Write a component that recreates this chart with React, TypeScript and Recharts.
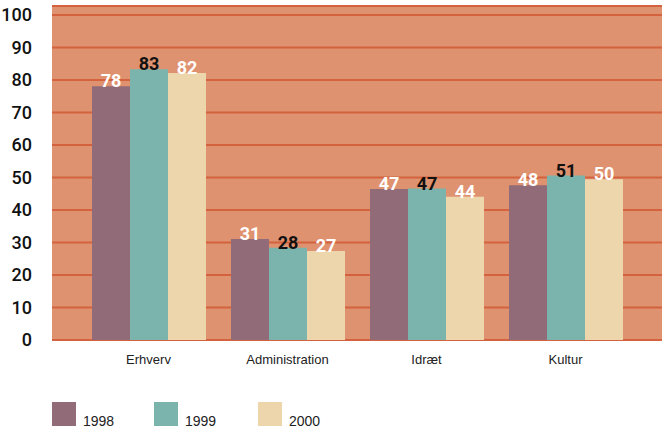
import { BarChart, Bar, XAxis, YAxis, CartesianGrid, LabelList } from "recharts";

const categories = ["Erhverv", "Administration", "Idræt", "Kultur"];
const years = ["1998", "1999", "2000"];
const v1998 = [78.1, 31.1, 46.5, 47.6];
const v1999 = [83.3, 28.4, 46.6, 50.6];
const v2000 = [82.2, 27.4, 44.1, 49.5];
const yTicks = [0, 10, 20, 30, 40, 50, 60, 70, 80, 90, 100];

const colors = ["#926B78", "#7AB4AC", "#EDD6AC"];
const labelColors = ["#FFFFFF", "#111111", "#FFFFFF"];

const data = categories.map((c, i) => ({
  name: c,
  y1998: v1998[i],
  y1999: v1999[i],
  y2000: v2000[i],
}));

function valueLabel(fill: string) {
  return (props: any) => {
    const { x, y, width, value } = props;
    return (
      <text
        x={x + width / 2}
        y={y + 1}
        textAnchor="middle"
        fill={fill}
        fontFamily="Roboto, sans-serif"
        fontWeight="bold"
        fontSize={18}
      >
        {Math.round(value)}
      </text>
    );
  };
}

function LegendBox() {
  const lefts = [52, 154, 258];
  return (
    <div style={{ position: "absolute", left: 0, top: 402, width: 663, height: 30 }}>
      {years.map((y, i) => (
        <div key={y} style={{ position: "absolute", left: lefts[i], top: 0 }}>
          <div style={{ position: "absolute", left: 0, top: 0, width: 24, height: 24, background: colors[i] }} />
          <span
            style={{
              position: "absolute",
              left: 31,
              top: 11,
              fontFamily: "'Liberation Sans', Arial, sans-serif",
              fontSize: 14,
              color: "#222",
              lineHeight: "16px",
            }}
          >
            {y}
          </span>
        </div>
      ))}
    </div>
  );
}

export default function App() {
  return (
    <div style={{ position: "absolute", left: 0, top: 0, width: 663, height: 433, background: "#fff" }}>
      <BarChart
        width={663}
        height={433}
        data={data}
        margin={{ top: 6, right: 1, left: 0, bottom: 63 }}
        barGap={0}
        barCategoryGap={13}
      >
        <CartesianGrid vertical={false} fill="#DF926F" fillOpacity={1} stroke="#D4623F" strokeWidth={2} />
        <XAxis
          dataKey="name"
          axisLine={false}
          tickLine={false}
          padding={{ left: 27, right: 27 }}
          tickMargin={9}
          height={30}
          tick={{ fontSize: 13, fill: "#222", fontFamily: "'Liberation Sans', Arial, sans-serif" }}
        />
        <YAxis
          domain={[0, 102.8]}
          ticks={yTicks}
          allowDataOverflow
          axisLine={false}
          tickLine={false}
          width={52}
          tickMargin={14}
          tick={{ fontSize: 18, fill: "#111", fontFamily: "Roboto, sans-serif", fontWeight: 500 }}
        />
        {(["y1998", "y1999", "y2000"] as const).map((k, i) => (
          <Bar key={k} dataKey={k} fill={colors[i]} isAnimationActive={false}>
            <LabelList dataKey={k} content={valueLabel(labelColors[i])} />
          </Bar>
        ))}
      </BarChart>
      <LegendBox />
    </div>
  );
}
